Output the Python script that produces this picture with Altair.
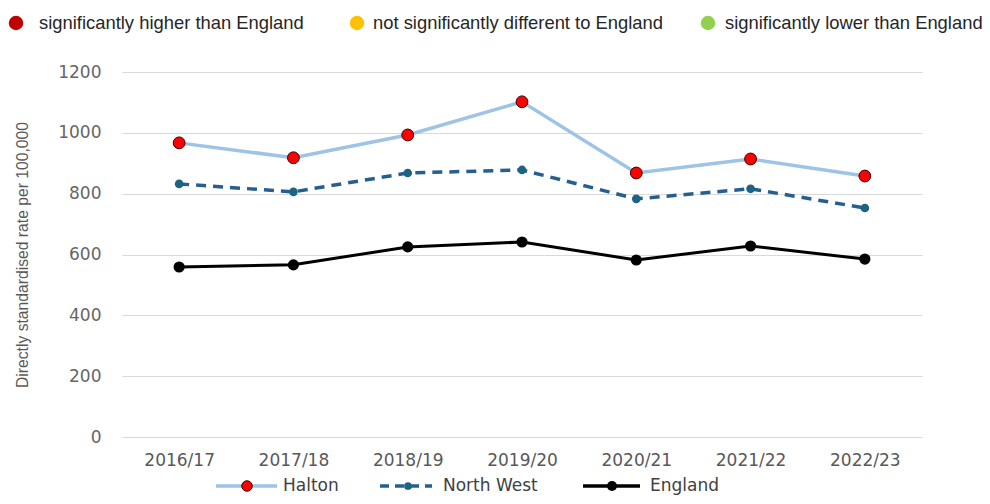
import altair as alt
import pandas as pd

years = ["2016/17", "2017/18", "2018/19", "2019/20", "2020/21", "2021/22", "2022/23"]
halton = [967, 918, 993, 1102, 868, 914, 858]
north_west = [832, 806, 868, 878, 783, 816, 753]
england = [559, 566, 625, 641, 582, 628, 585]

y_ticks = [0, 200, 400, 600, 800, 1000, 1200]
sig_labels = ["significantly higher than England", "not significantly different to England", "significantly lower than England"]
sig_colors = ["#C00000", "#FFC000", "#92D050"]
series_names = ["Halton", "North West", "England"]

df = pd.DataFrame({
    "year": years * 3,
    "value": halton + north_west + england,
    "series": [series_names[0]] * 7 + [series_names[1]] * 7 + [series_names[2]] * 7,
})
one = pd.DataFrame({"d": [0]})

x_enc = alt.X("year:N", sort=years, scale=alt.Scale(type="point", padding=0.5),
              axis=alt.Axis(title=None, labelAngle=0, domain=False, ticks=False,
                            labelPadding=15, labelFontSize=17, labelFont="DejaVu Sans",
                            labelColor="#595959", grid=False))
y_enc = alt.Y("value:Q", scale=alt.Scale(domain=[0, 1200], nice=False),
              axis=alt.Axis(values=y_ticks, format="d", title="Directly standardised rate per 100,000",
                            domain=False, ticks=False, gridColor="#d9d9d9", gridWidth=1,
                            labelPadding=21, labelFontSize=17, labelFont="DejaVu Sans",
                            labelColor="#666666", titleFont="Liberation Sans", titleFontSize=15.7,
                            titleFontWeight="normal", titleColor="#595959", titlePadding=27))

base = alt.Chart(df).encode(x=x_enc, y=y_enc)

eng = base.transform_filter(alt.datum.series == "England")
nw = base.transform_filter(alt.datum.series == "North West")
hal = base.transform_filter(alt.datum.series == "Halton")

layers = [
    eng.mark_line(color="black", strokeWidth=3),
    eng.mark_circle(color="black", size=125, opacity=1),
    nw.mark_line(color="#255E91", strokeWidth=3.5, strokeDash=[10, 7]),
    nw.mark_circle(color="#1F6383", size=75, opacity=1),
    hal.mark_line(color="#9DC3E6", strokeWidth=3.5),
    hal.mark_point(filled=True, fill="#FF0000", stroke="#3a0000", strokeWidth=1, size=140, opacity=1),
]

# top significance legend
top_circle_x = [-106, 235, 586]
top_text_x = [-83, 251, 603]
for i in range(3):
    layers.append(alt.Chart(one).mark_circle(color=sig_colors[i], size=210, opacity=1)
                  .encode(x=alt.value(top_circle_x[i]), y=alt.value(-49)))
    layers.append(alt.Chart(one).mark_text(text=sig_labels[i], align="left", baseline="middle",
                                           font="Liberation Sans", fontSize=18.4, color="#262626")
                  .encode(x=alt.value(top_text_x[i]), y=alt.value(-49)))

# bottom series legend
ly = 414
leg = [
    (94, 155, 125, 161, "#9DC3E6", []),
    (258, 310, 286, 321, "#255E91", [9, 6]),
    (461, 518, 490, 528, "black", []),
]
for i, (x1, x2, cx, tx, col, dash) in enumerate(leg):
    rule_kwargs = dict(color=col, strokeWidth=3.5)
    if dash:
        rule_kwargs["strokeDash"] = dash
    layers.append(alt.Chart(one).mark_rule(**rule_kwargs)
                  .encode(x=alt.value(x1), x2=alt.value(x2), y=alt.value(ly)))
    if i == 0:
        layers.append(alt.Chart(one).mark_point(filled=True, fill="#FF0000", stroke="#3a0000", strokeWidth=1,
                                                size=110, opacity=1)
                      .encode(x=alt.value(cx), y=alt.value(ly)))
    elif i == 1:
        layers.append(alt.Chart(one).mark_circle(color="#1F6383", size=60, opacity=1)
                      .encode(x=alt.value(cx), y=alt.value(ly)))
    else:
        layers.append(alt.Chart(one).mark_circle(color="black", size=100, opacity=1)
                      .encode(x=alt.value(cx), y=alt.value(ly)))
    layers.append(alt.Chart(one).mark_text(text=series_names[i], align="left", baseline="middle",
                                           font="DejaVu Sans", fontSize=17, color="#404040")
                  .encode(x=alt.value(tx), y=alt.value(ly)))

chart = alt.layer(*layers).properties(
    width=800, height=365,
    background="white",
    autosize=alt.AutoSizeParams(type="none"),
    padding={"left": 114, "top": 64, "right": 60, "bottom": 59},
).configure_view(stroke=None)

chart.save("out.html", embed_options={"renderer": "svg", "actions": False})
